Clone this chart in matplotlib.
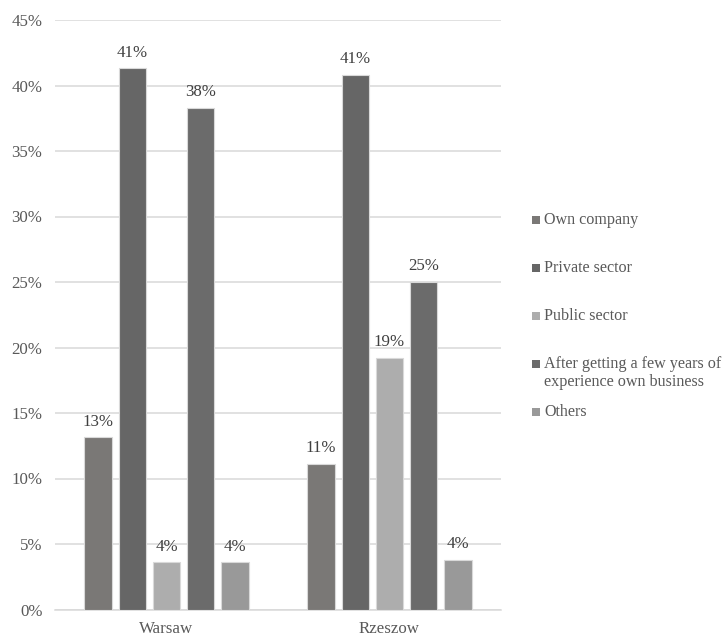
import matplotlib

matplotlib.use("Agg")
import matplotlib.pyplot as plt
import numpy as np
from matplotlib.patches import Rectangle
from matplotlib.ticker import FuncFormatter, MultipleLocator

cities = ["Warsaw", "Rzeszow"]
series = [
    "Own company",
    "Private sector",
    "Public sector",
    "After getting a few years of\nexperience own business",
    "Others",
]
# percent values per series, Warsaw then Rzeszow
own_company = [13.15, 11.1]
private_sector = [41.3, 40.8]
public_sector = [3.6, 19.2]
after_experience = [38.3, 25.0]
others = [3.6, 3.8]
colors = ["#7a7876", "#666666", "#adadad", "#6b6b6b", "#999999"]

values = [own_company, private_sector, public_sector, after_experience, others]

plt.rcParams["font.family"] = ["Liberation Serif", "DejaVu Serif"]
FS = 12.2
LEGEND_FS = 11.6

W, H = 725, 640
fig = plt.figure(figsize=(W / 100, H / 100), dpi=100)
ax = fig.add_axes([55 / W, 1 - 609.5 / H, (501 - 55) / W, (609.5 - 20) / H])

x = np.arange(len(cities))
pitch = 0.1536
width = 0.123
for i, (vals, color) in enumerate(zip(values, colors)):
    offset = (i - 2) * pitch
    bars = ax.bar(x + offset, vals, width, color=color, edgecolor="#d9d9d9",
                  linewidth=0.8, zorder=3)
    for bar, v in zip(bars, vals):
        ax.annotate(f"{round(v):.0f}%",
                    (bar.get_x() + bar.get_width() / 2, bar.get_height()),
                    xytext=(0, 5.5), textcoords="offset points",
                    ha="center", va="bottom", color="#404040", fontsize=FS)

ax.set_xlim(-0.5, 1.5)
ax.set_ylim(0, 45)
ax.yaxis.set_major_locator(MultipleLocator(5))
ax.yaxis.set_major_formatter(FuncFormatter(lambda v, _: f"{v:.0f}%"))
ax.set_xticks(x)
ax.set_xticklabels(cities)
ax.grid(axis="y", color="#d9d9d9", linewidth=1.1, zorder=0)
for side in ["top", "right", "left"]:
    ax.spines[side].set_visible(False)
ax.spines["bottom"].set_color("#d9d9d9")
ax.spines["bottom"].set_linewidth(1.1)
ax.tick_params(axis="both", length=0, colors="#595959", labelsize=FS)
ax.tick_params(axis="y", pad=9)
ax.tick_params(axis="x", pad=8)

# legend, drawn by hand so the entries keep Excel's even spacing
for i, (label, color) in enumerate(zip(series, colors)):
    yc = 220 + 48 * i
    fig.patches.append(Rectangle((532 / W, 1 - (yc + 4) / H), 8 / W, 8 / H,
                                 transform=fig.transFigure, facecolor=color,
                                 edgecolor="none"))
    nlines = label.count("\n") + 1
    fig.text(544 / W, 1 - (yc + 9 * (nlines - 1)) / H, label, ha="left",
             va="center", color="#595959", fontsize=LEGEND_FS, linespacing=1.1)

fig.savefig("out.png", dpi=100)
